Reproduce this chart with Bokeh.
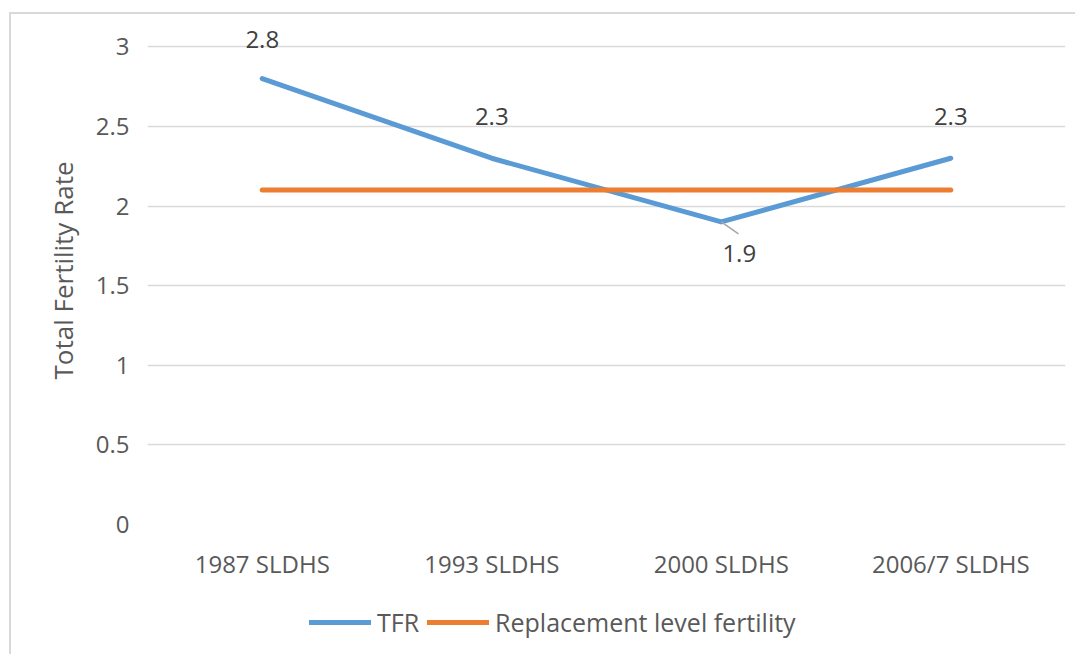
from bokeh.plotting import figure
from bokeh.layouts import column
from bokeh.models import ColumnDataSource, LabelSet, Legend, LegendItem, SingleIntervalTicker, FactorRange
from bokeh.core.properties import value
from bokeh.embed import file_html
from bokeh.resources import INLINE

surveys = ["1987 SLDHS", "1993 SLDHS", "2000 SLDHS", "2006/7 SLDHS"]
tfr = [2.8, 2.3, 1.9, 2.3]
replacement = [2.1, 2.1, 2.1, 2.1]
tfr_labels = ["2.8", "2.3", "1.9", "2.3"]
series_names = ["TFR", "Replacement level fertility"]

FONT = "Open Sans"
TXT = "#595959"
BLUE = "#5B9BD5"
ORANGE = "#ED7D31"

p = figure(x_range=FactorRange(*surveys, range_padding=0), y_range=(0, 3.19),
           frame_width=918, frame_height=508,
           min_border_left=136, min_border_right=10, min_border_top=2, min_border_bottom=60,
           output_backend="svg", toolbar_location=None,
           background_fill_color="white", border_fill_color="white", outline_line_color=None)

r_tfr = p.line(surveys, tfr, line_color=BLUE, line_width=5, line_cap="round", line_join="round")
r_rep = p.line(surveys, replacement, line_color=ORANGE, line_width=5, line_cap="round")

# leader line for the 2000 label
p.segment(x0=[(surveys[2], 0.0)], y0=[tfr[2]], x1=[(surveys[2], 0.075)], y1=[tfr[2] - 0.075],
          line_color="#a6a6a6", line_width=1.5)

y_offsets = [39, 42, -32, 42]
x_offsets = [0, 0, 18, 0]
src = ColumnDataSource(dict(x=surveys, y=tfr, t=tfr_labels, yo=y_offsets, xo=x_offsets))
labels = LabelSet(x="x", y="y", text="t", source=src, x_offset="xo", y_offset="yo",
                  text_align="center", text_baseline="middle",
                  text_font=value(FONT), text_font_size="24px", text_color="#404040")
p.add_layout(labels)

p.yaxis.ticker = SingleIntervalTicker(interval=0.5)
for ax in (p.xaxis[0], p.yaxis[0]):
    ax.axis_line_color = None
    ax.major_tick_line_color = None
    ax.minor_tick_line_color = None
    ax.major_label_text_font = FONT
    ax.major_label_text_font_size = "24px"
    ax.major_label_text_color = TXT
p.yaxis.major_label_standoff = 12
p.xaxis.major_label_standoff = 16
p.yaxis.axis_label = "Total Fertility Rate"
p.yaxis.axis_label_text_font = FONT
p.yaxis.axis_label_text_font_size = "26px"
p.yaxis.axis_label_text_font_style = "normal"
p.yaxis.axis_label_text_color = TXT
p.yaxis.axis_label_standoff = 12

p.xgrid.grid_line_color = None
p.ygrid.grid_line_color = "#d9d9d9"
p.ygrid.grid_line_width = 1.5

# legend strip below the chart (its lines fall outside its own range, only the legend shows)
q = figure(width=1064, height=70, x_range=(0, 1), y_range=(0, 1),
           x_axis_type=None, y_axis_type=None, min_border=0,
           output_backend="svg", toolbar_location=None,
           background_fill_color="white", border_fill_color="white", outline_line_color=None)
q.xgrid.grid_line_color = None
q.ygrid.grid_line_color = None
idx = list(range(len(surveys)))
k_tfr = q.line(idx, tfr, line_color=BLUE, line_width=5, line_cap="round")
k_rep = q.line(idx, replacement, line_color=ORANGE, line_width=5, line_cap="round")
legend = Legend(items=[LegendItem(label=series_names[0], renderers=[k_tfr]),
                       LegendItem(label=series_names[1], renderers=[k_rep])],
                location=(162, 15), orientation="horizontal",
                glyph_width=62, glyph_height=26, label_height=26, label_standoff=6, spacing=8,
                padding=0, margin=0, border_line_color=None, background_fill_alpha=0,
                label_text_font=FONT, label_text_font_size="25px", label_text_color=TXT)
q.add_layout(legend, "center")

layout = column(p, q, spacing=0,
                styles={"border-left": "2px solid #d9d9d9", "border-top": "2px solid #d9d9d9",
                        "margin-left": "9px", "margin-top": "12px"})

open("out.html", "w").write(file_html(layout, INLINE))
